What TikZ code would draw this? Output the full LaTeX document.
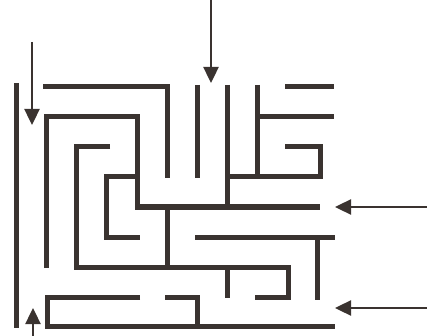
\documentclass[tikz,border=0pt]{standalone}
\usetikzlibrary{arrows.meta}
\definecolor{wall}{HTML}{3A3330}
\begin{document}
\begin{tikzpicture}[x=1pt,y=-1pt,
  wallline/.style={draw=wall,line width=5pt,line cap=butt,line join=miter},
  entry/.style={draw=wall,line width=2.4pt,-{Triangle[length=16pt,width=15pt]}}]
\useasboundingbox (0,0) rectangle (427,336);
% walls
\draw[wallline] (16,83) -- (16,328);
\draw[wallline] (43,87) -- (167,87) -- (167,178);
\draw[wallline] (197,85) -- (197,178);
\draw[wallline] (46,268) -- (46,117) -- (137,117) -- (137,207) -- (320,207);
\draw[wallline] (227,85) -- (227,207);
\draw[wallline] (257,85) -- (257,177);
\draw[wallline] (257,117) -- (334,117);
\draw[wallline] (285,87) -- (334,87);
\draw[wallline] (227,177) -- (320,177) -- (320,147) -- (285,147);
\draw[wallline] (110,147) -- (76,147) -- (76,267) -- (288,267) -- (288,297) -- (255,297);
\draw[wallline] (227,267) -- (227,298);
\draw[wallline] (167,207) -- (167,267);
\draw[wallline] (137,177) -- (106,177) -- (106,237) -- (140,237);
\draw[wallline] (195,237) -- (335,237);
\draw[wallline] (317,237) -- (317,300);
\draw[wallline] (140,297) -- (47,297) -- (47,326) -- (335,326);
\draw[wallline] (165,297) -- (197,297) -- (197,326);
% arrows
\coordinate (a1s) at (32,42);  \coordinate (a1e) at (32,125);
\coordinate (a2s) at (211,0);  \coordinate (a2e) at (211,83);
\coordinate (a3s) at (427,207); \coordinate (a3e) at (335,207);
\coordinate (a4s) at (427,308); \coordinate (a4e) at (335,308);
\coordinate (a5s) at (33,336); \coordinate (a5e) at (33,308);
\draw[entry] (a1s) -- (a1e);
\draw[entry] (a2s) -- (a2e);
\draw[entry] (a3s) -- (a3e);
\draw[entry] (a4s) -- (a4e);
\draw[entry] (a5s) -- (a5e);
\end{tikzpicture}
\end{document}
